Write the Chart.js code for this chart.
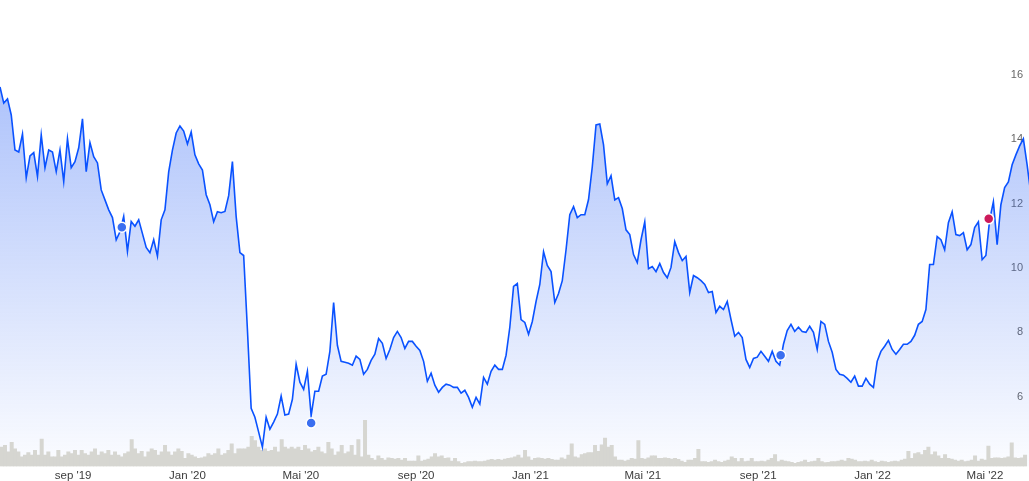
<!DOCTYPE html>
<html>
<head>
<meta charset="utf-8">
<script src="https://cdn.jsdelivr.net/npm/chart.js@4"></script>
<style>
  html, body { margin: 0; padding: 0; background: #fff; }
  #wrap { width: 1029px; height: 481px; position: relative; }
</style>
</head>
<body>
<div id="wrap"><canvas id="chart"></canvas></div>
<script>
// days are counted from 1 sep 2019
const priceStartDay = -78;
const priceStepDays = 4;
const prices = [
  15.63, 15.13, 15.26, 14.76, 13.67, 13.61, 14.17, 12.81, 13.49, 13.59,
  12.85, 14.14, 13.12, 13.67, 13.61, 13.00, 13.67, 12.69, 14.02, 13.12,
  13.31, 13.74, 14.64, 13.00, 13.90, 13.46, 13.27, 12.43, 12.12, 11.81,
  11.57, 10.88, 11.13, 11.61, 10.52, 11.45, 11.30, 11.50, 11.07, 10.64,
  10.48, 10.88, 10.37, 11.50, 11.81, 12.99, 13.67, 14.20, 14.42, 14.26,
  13.86, 14.23, 13.52, 13.24, 13.05, 12.28, 11.97, 11.44, 11.75, 11.72,
  11.76, 12.25, 13.31, 11.60, 10.48, 10.39, 8.09, 5.64, 5.36, 4.90,
  4.43, 5.36, 4.99, 5.21, 5.46, 6.02, 5.43, 5.46, 5.92, 7.01,
  6.45, 6.23, 6.79, 5.41, 6.17, 6.17, 6.64, 6.70, 7.41, 8.93,
  7.60, 7.10, 7.07, 7.04, 6.98, 7.26, 7.16, 6.70, 6.85, 7.13,
  7.32, 7.81, 7.66, 7.19, 7.47, 7.84, 8.03, 7.84, 7.50, 7.72,
  7.72, 7.57, 7.44, 7.10, 6.48, 6.73, 6.36, 6.14, 6.29, 6.39,
  6.36, 6.29, 6.29, 6.11, 6.20, 5.98, 5.67, 5.98, 5.77, 6.60,
  6.39, 6.79, 6.98, 6.85, 6.85, 7.29, 8.16, 9.43, 9.52, 8.40,
  8.31, 7.94, 8.34, 8.96, 9.49, 10.51, 10.08, 9.89, 8.93, 9.21,
  9.61, 10.57, 11.66, 11.91, 11.57, 11.66, 11.66, 12.13, 13.15, 14.45,
  14.48, 13.83, 12.62, 12.87, 12.12, 12.19, 11.85, 11.19, 11.04, 10.42,
  10.17, 10.88, 11.44, 9.98, 10.05, 9.89, 10.14, 9.86, 9.70, 10.02,
  10.82, 10.48, 10.23, 10.36, 9.24, 9.77, 9.70, 9.61, 9.49, 9.24,
  9.27, 8.62, 8.81, 8.71, 8.96, 8.40, 7.88, 8.00, 7.84, 7.16,
  6.91, 7.19, 7.23, 7.41, 7.26, 7.10, 7.41, 7.10, 6.98, 7.63,
  8.06, 8.25, 8.03, 8.16, 8.03, 8.00, 8.19, 8.00, 7.47, 8.34,
  8.25, 7.72, 7.38, 6.85, 6.70, 6.67, 6.57, 6.45, 6.64, 6.33,
  6.33, 6.57, 6.39, 6.29, 7.10, 7.41, 7.57, 7.75, 7.47, 7.32,
  7.47, 7.63, 7.63, 7.72, 7.91, 8.25, 8.34, 8.71, 10.11, 10.11,
  10.98, 10.88, 10.57, 11.41, 11.75, 11.04, 11.01, 11.10, 10.57, 10.73,
  11.26, 11.44, 10.26, 10.39, 11.50, 12.06, 10.73, 11.97, 12.50, 12.68,
  13.21, 13.52, 13.80, 14.02, 13.21, 12.30
];

// volume in thousand shares
const volStartDay = -76.2;
const volStepDays = 3.557;
const volumes = [
  200, 217, 150, 250, 183, 150, 100, 117, 143, 117,
  167, 117, 283, 117, 150, 100, 100, 167, 100, 117,
  150, 133, 167, 117, 167, 133, 117, 150, 183, 117,
  150, 133, 167, 117, 150, 117, 100, 133, 150, 277,
  183, 133, 157, 100, 150, 183, 167, 117, 150, 217,
  150, 117, 150, 183, 157, 83, 133, 117, 100, 83,
  90, 100, 133, 117, 133, 183, 117, 133, 167, 233,
  133, 183, 183, 183, 200, 310, 267, 200, 167, 183,
  157, 167, 200, 150, 277, 200, 183, 200, 183, 200,
  167, 217, 183, 150, 167, 200, 150, 133, 250, 183,
  117, 150, 217, 133,
  150, 217, 117, 277, 100, 477, 117, 83, 67, 110,
  83, 67, 90, 83, 77, 83, 67, 83, 57, 57,
  57, 110, 57, 67, 77, 100, 133, 100, 110, 83,
  90, 57, 83, 50, 33, 40, 50, 50, 57, 50,
  50, 57, 67, 73, 67, 73, 67, 77, 83, 90,
  100, 117, 90, 167, 100, 67, 83, 90, 83, 77,
  83, 73, 67, 67, 90, 77, 117, 233, 100, 90,
  123, 133, 143, 143, 217, 157, 223, 293, 200, 217,
  100, 67, 67, 57, 67, 83, 77, 267, 83, 77,
  90, 110, 110, 83, 83, 90, 83, 77, 83, 73,
  57, 43,
  67, 67, 83, 177, 50, 50, 43, 50, 67, 50,
  43, 57, 67, 100, 83, 50, 83, 50, 57, 83,
  50, 50, 57, 50, 67, 83, 123, 50, 67, 57,
  50, 43, 33, 43, 50, 67, 43, 50, 57, 83,
  50, 40, 43, 50, 50, 57, 67, 57, 83, 77,
  67, 50, 50, 57, 50, 67, 50, 43, 57, 50,
  43, 50, 57, 50, 67, 77, 157, 83, 133, 143,
  123, 167, 200, 123, 150, 110, 83, 123, 83, 77,
  67, 57, 67, 50, 57, 67, 110, 57, 77, 67,
  210, 83, 90, 90, 83, 90, 100, 243, 90, 83,
  90, 117
];

const blueEventDays = [52, 254, 755];
const blueEventPrices = [11.27, 5.18, 7.29];
const redEventDays = [977];
const redEventPrices = [11.53];

const xTickDays = [0, 122, 243, 366, 488, 608, 731, 853, 973];
const xTickLabels = ["sep '19", "Jan '20", "Mai '20", "sep '20", "Jan '21", "Mai '21", "sep '21", "Jan '22", "Mai '22"];
const yTicks = [6, 8, 10, 12, 14, 16];

const priceData = prices.map((p, i) => ({ x: priceStartDay + i * priceStepDays, y: p }));
const volData = volumes.map((v, i) => ({ x: volStartDay + i * volStepDays, y: v }));

function fillGradient(ctx) {
  const chart = ctx.chart;
  const area = chart.chartArea;
  if (!area) return 'rgba(60,110,245,0.2)';
  const g = chart.ctx.createLinearGradient(0, 80, 0, area.bottom);
  g.addColorStop(0, 'rgba(60,110,245,0.42)');
  g.addColorStop(1, 'rgba(60,110,245,0.02)');
  return g;
}

const font = { family: 'Arial, "Liberation Sans", sans-serif', size: 11 };

new Chart(document.getElementById('chart'), {
  type: 'line',
  data: {
    datasets: [
      {
        type: 'scatter',
        data: blueEventDays.map((d, i) => ({ x: d, y: blueEventPrices[i] })),
        pointRadius: 5,
        pointBorderWidth: 1.5,
        pointBorderColor: '#ffffff',
        pointBackgroundColor: '#3b6ff0',
        order: 0
      },
      {
        type: 'scatter',
        data: redEventDays.map((d, i) => ({ x: d, y: redEventPrices[i] })),
        pointRadius: 5,
        pointBorderWidth: 1.5,
        pointBorderColor: '#ffffff',
        pointBackgroundColor: '#cc1a5a',
        order: 0
      },
      {
        type: 'line',
        data: priceData,
        borderColor: '#0a52ff',
        borderWidth: 1.6,
        backgroundColor: fillGradient,
        fill: 'start',
        pointRadius: 0,
        tension: 0,
        order: 1
      },
      {
        type: 'bar',
        data: volData,
        yAxisID: 'y2',
        backgroundColor: '#d6d6d1',
        borderWidth: 0,
        barPercentage: 1,
        categoryPercentage: 1,
        order: 2
      }
    ]
  },
  options: {
    responsive: true,
    maintainAspectRatio: false,
    animation: false,
    devicePixelRatio: 1,
    layout: { autoPadding: false, padding: { top: 14, left: 0, right: 0, bottom: 0 } },
    plugins: {
      legend: { display: false },
      tooltip: { enabled: false },
      filler: { drawTime: 'beforeDatasetsDraw' }
    },
    scales: {
      x: {
        type: 'linear',
        offset: false,
        min: -78,
        max: 1020,
        grid: { display: false, drawTicks: false },
        border: { display: false },
        afterBuildTicks: (s) => { s.ticks = xTickDays.map(v => ({ value: v })); },
        afterFit: (s) => { s.height = 14.5; s.paddingLeft = 0; s.paddingRight = 0; },
        ticks: {
          autoSkip: false,
          maxRotation: 0,
          padding: 2,
          color: '#3c3c3c',
          font: { family: font.family, size: 11.5 },
          callback: (v, i) => xTickLabels[i]
        }
      },
      y: {
        position: 'right',
        min: 3.83,
        max: 17.9,
        grid: { display: false, drawTicks: false },
        border: { display: false },
        afterBuildTicks: (s) => { s.ticks = yTicks.map(v => ({ value: v })); },
        afterFit: (s) => { s.width = 0; s.paddingTop = 0; s.paddingBottom = 0; },
        ticks: {
          mirror: true,
          padding: -6,
          color: '#666666',
          font: font
        }
      },
      y2: {
        display: false,
        min: 0,
        max: 4665
      }
    }
  }
});
</script>
</body>
</html>
